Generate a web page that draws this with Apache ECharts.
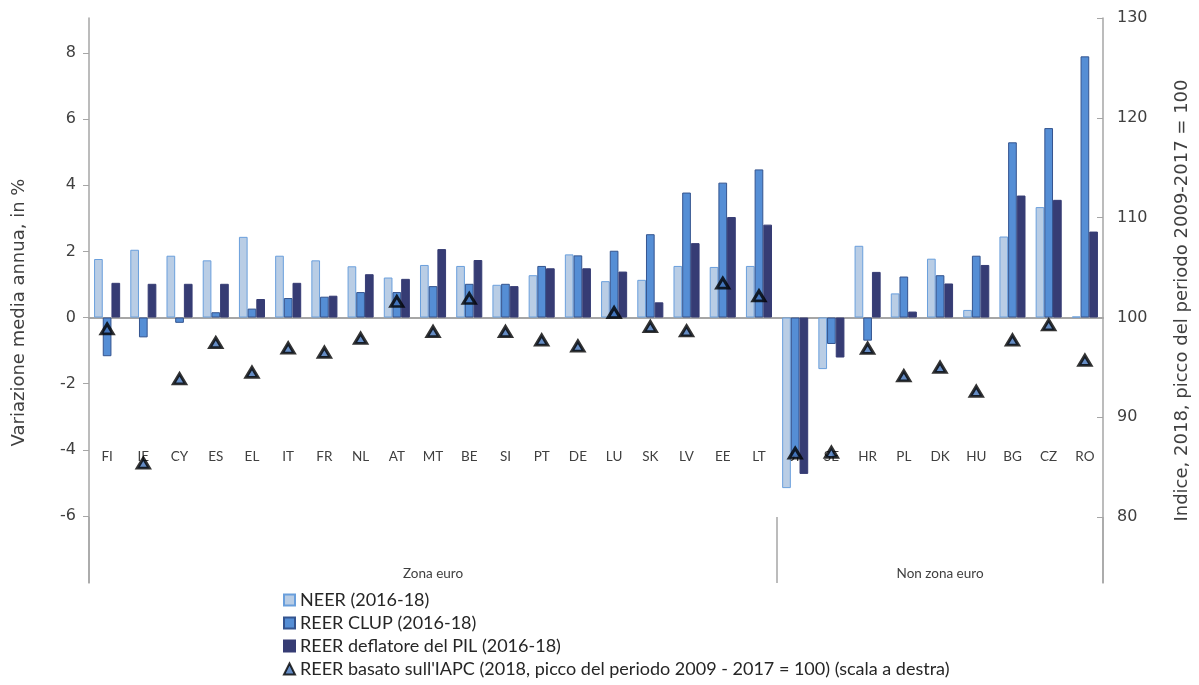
<!DOCTYPE html>
<html>
<head>
<meta charset="utf-8">
<script src="https://cdn.jsdelivr.net/npm/echarts@6/dist/echarts.min.js"></script>
<style>
html,body{margin:0;padding:0;background:#fff;}
#chart{width:1199px;height:685px;}
</style>
</head>
<body>
<div id="chart"></div>
<script>
var categories = ['FI','IE','CY','ES','EL','IT','FR','NL','AT','MT','BE','SI','PT','DE','LU','SK','LV','EE','LT','UK','SE','HR','PL','DK','HU','BG','CZ','RO'];
var groupLabels = {9: 'Zona euro', 23: 'Non zona euro'};
var groupBoundaries = [0, 19];
var neer = [1.77, 2.05, 1.87, 1.73, 2.44, 1.87, 1.73, 1.55, 1.21, 1.59, 1.56, 0.99, 1.28, 1.91, 1.10, 1.14, 1.56, 1.53, 1.56, -5.16, -1.56, 2.17, 0.73, 1.78, 0.23, 2.45, 3.34, 0.03];
var clup = [-1.17, -0.60, -0.16, 0.16, 0.27, 0.59, 0.63, 0.77, 0.77, 0.95, 1.02, 1.02, 1.56, 1.88, 2.02, 2.52, 3.78, 4.08, 4.48, -4.20, -0.80, -0.70, 1.24, 1.28, 1.87, 5.30, 5.73, 7.90];
var deflator = [1.05, 1.02, 1.02, 1.02, 0.56, 1.05, 0.66, 1.31, 1.17, 2.07, 1.74, 0.95, 1.49, 1.49, 1.39, 0.46, 2.25, 3.04, 2.81, -4.73, -1.21, 1.38, 0.18, 1.03, 1.59, 3.69, 3.56, 2.60];
var hicp = [98.85, 85.4, 93.86, 97.47, 94.5, 96.94, 96.5, 97.9, 101.6, 98.58, 101.9, 98.58, 97.74, 97.14, 100.48, 99.08, 98.65, 103.43, 102.16, 86.4, 86.48, 96.9, 94.16, 95.0, 92.6, 97.74, 99.25, 95.7];
var leftTicks = [-6, -4, -2, 0, 2, 4, 6, 8];
var rightTicks = [80, 90, 100, 110, 120, 130];
var names = ['NEER (2016-18)', 'REER CLUP (2016-18)', 'REER deflatore del PIL (2016-18)', "REER basato sull'IAPC (2018, picco del periodo 2009 - 2017 = 100) (scala a destra)"];

var chart = echarts.init(document.getElementById('chart'), null, {renderer: 'canvas'});
var axisGrey = '#a6a6a6';
var txt = '#404040';
var numFont = '"DejaVu Sans", Verdana, sans-serif';
var catFont = 'Lato, "Open Sans", sans-serif';

var option = {
  animation: false,
  backgroundColor: '#ffffff',
  grid: {left: 89, right: 91, top: 18, bottom: 102, containLabel: false},
  legend: {
    orient: 'vertical', left: 283, top: 591, height: 110, padding: 0,
    itemWidth: 11, itemHeight: 11, itemGap: 5,
    textStyle: {fontFamily: catFont, fontSize: 18, color: '#262626'},
    data: [
      {name: names[0], icon: 'rect'},
      {name: names[1], icon: 'rect'},
      {name: names[2], icon: 'rect'},
      {name: names[3], icon: 'triangle'}
    ]
  },
  xAxis: [
    {
      type: 'category', data: categories, gridIndex: 0,
      axisLine: {show: true, onZero: true, onZeroAxisIndex: 0, lineStyle: {color: axisGrey, width: 2}},
      axisTick: {show: false}, axisLabel: {show: false}, splitLine: {show: false}
    },
    {
      type: 'category', data: categories, gridIndex: 0, position: 'bottom', offset: -141,
      axisLine: {show: false}, axisTick: {show: false}, splitLine: {show: false},
      axisLabel: {interval: 0, margin: 8, fontFamily: catFont, fontSize: 13.5, color: txt}
    },
    {
      type: 'category', data: categories, gridIndex: 0, position: 'bottom',
      axisLine: {show: false}, splitLine: {show: false},
      axisTick: {show: true, inside: true, length: 66, lineStyle: {color: axisGrey, width: 1.5},
        interval: function (idx) { return groupBoundaries.indexOf(idx) >= 0; }},
      axisLabel: {inside: true, interval: 0, margin: 2, fontFamily: catFont, fontSize: 13.5, color: txt,
        formatter: function (v, i) { return groupLabels[i] || ''; }}
    }
  ],
  yAxis: [
    {
      type: 'value', min: -8.03, max: 9.06, position: 'left',
      name: 'Variazione media annua, in %', nameLocation: 'middle', nameGap: 61, nameRotate: 90,
      nameTextStyle: {fontFamily: numFont, fontSize: 18, color: txt, padding: [0, 24, 0, 0]},
      axisLine: {show: true, lineStyle: {color: axisGrey, width: 1.5}},
      axisTick: {show: true, length: 6, customValues: leftTicks, lineStyle: {color: axisGrey}},
      axisLabel: {customValues: leftTicks, margin: 13, fontFamily: numFont, fontSize: 16, color: txt},
      splitLine: {show: false}
    },
    {
      type: 'value', min: 73.4, max: 130, position: 'right',
      name: 'Indice, 2018, picco del periodo 2009-2017 = 100', nameLocation: 'middle', nameGap: 70, nameRotate: 90,
      nameTextStyle: {fontFamily: numFont, fontSize: 18, color: txt},
      axisLine: {show: true, lineStyle: {color: axisGrey, width: 1.5}},
      axisTick: {show: true, inside: true, length: 6, customValues: rightTicks, lineStyle: {color: axisGrey}},
      axisLabel: {customValues: rightTicks, margin: 14, fontFamily: numFont, fontSize: 16, color: txt},
      splitLine: {show: false}
    }
  ],
  series: [
    {
      name: names[0], type: 'bar', xAxisIndex: 0, yAxisIndex: 0, data: neer,
      barGap: '0%', barCategoryGap: '28%',
      itemStyle: {color: '#b9cde5', borderColor: '#6a9fdc', borderWidth: 1}
    },
    {
      name: names[1], type: 'bar', xAxisIndex: 0, yAxisIndex: 0, data: clup,
      barGap: '0%', barCategoryGap: '28%',
      itemStyle: {color: '#558ed5', borderColor: '#34548f', borderWidth: 1}
    },
    {
      name: names[2], type: 'bar', xAxisIndex: 0, yAxisIndex: 0, data: deflator,
      barGap: '0%', barCategoryGap: '28%',
      itemStyle: {color: '#363c74', borderColor: '#363c74', borderWidth: 1}
    },
    {
      name: names[3], type: 'scatter', xAxisIndex: 0, yAxisIndex: 1, data: hicp,
      symbol: 'triangle', symbolSize: [12, 10], z: 5,
      itemStyle: {color: '#3f6fb5', borderColor: '#000000', borderWidth: 3}
    }
  ]
};
chart.setOption(option);
</script>
</body>
</html>
